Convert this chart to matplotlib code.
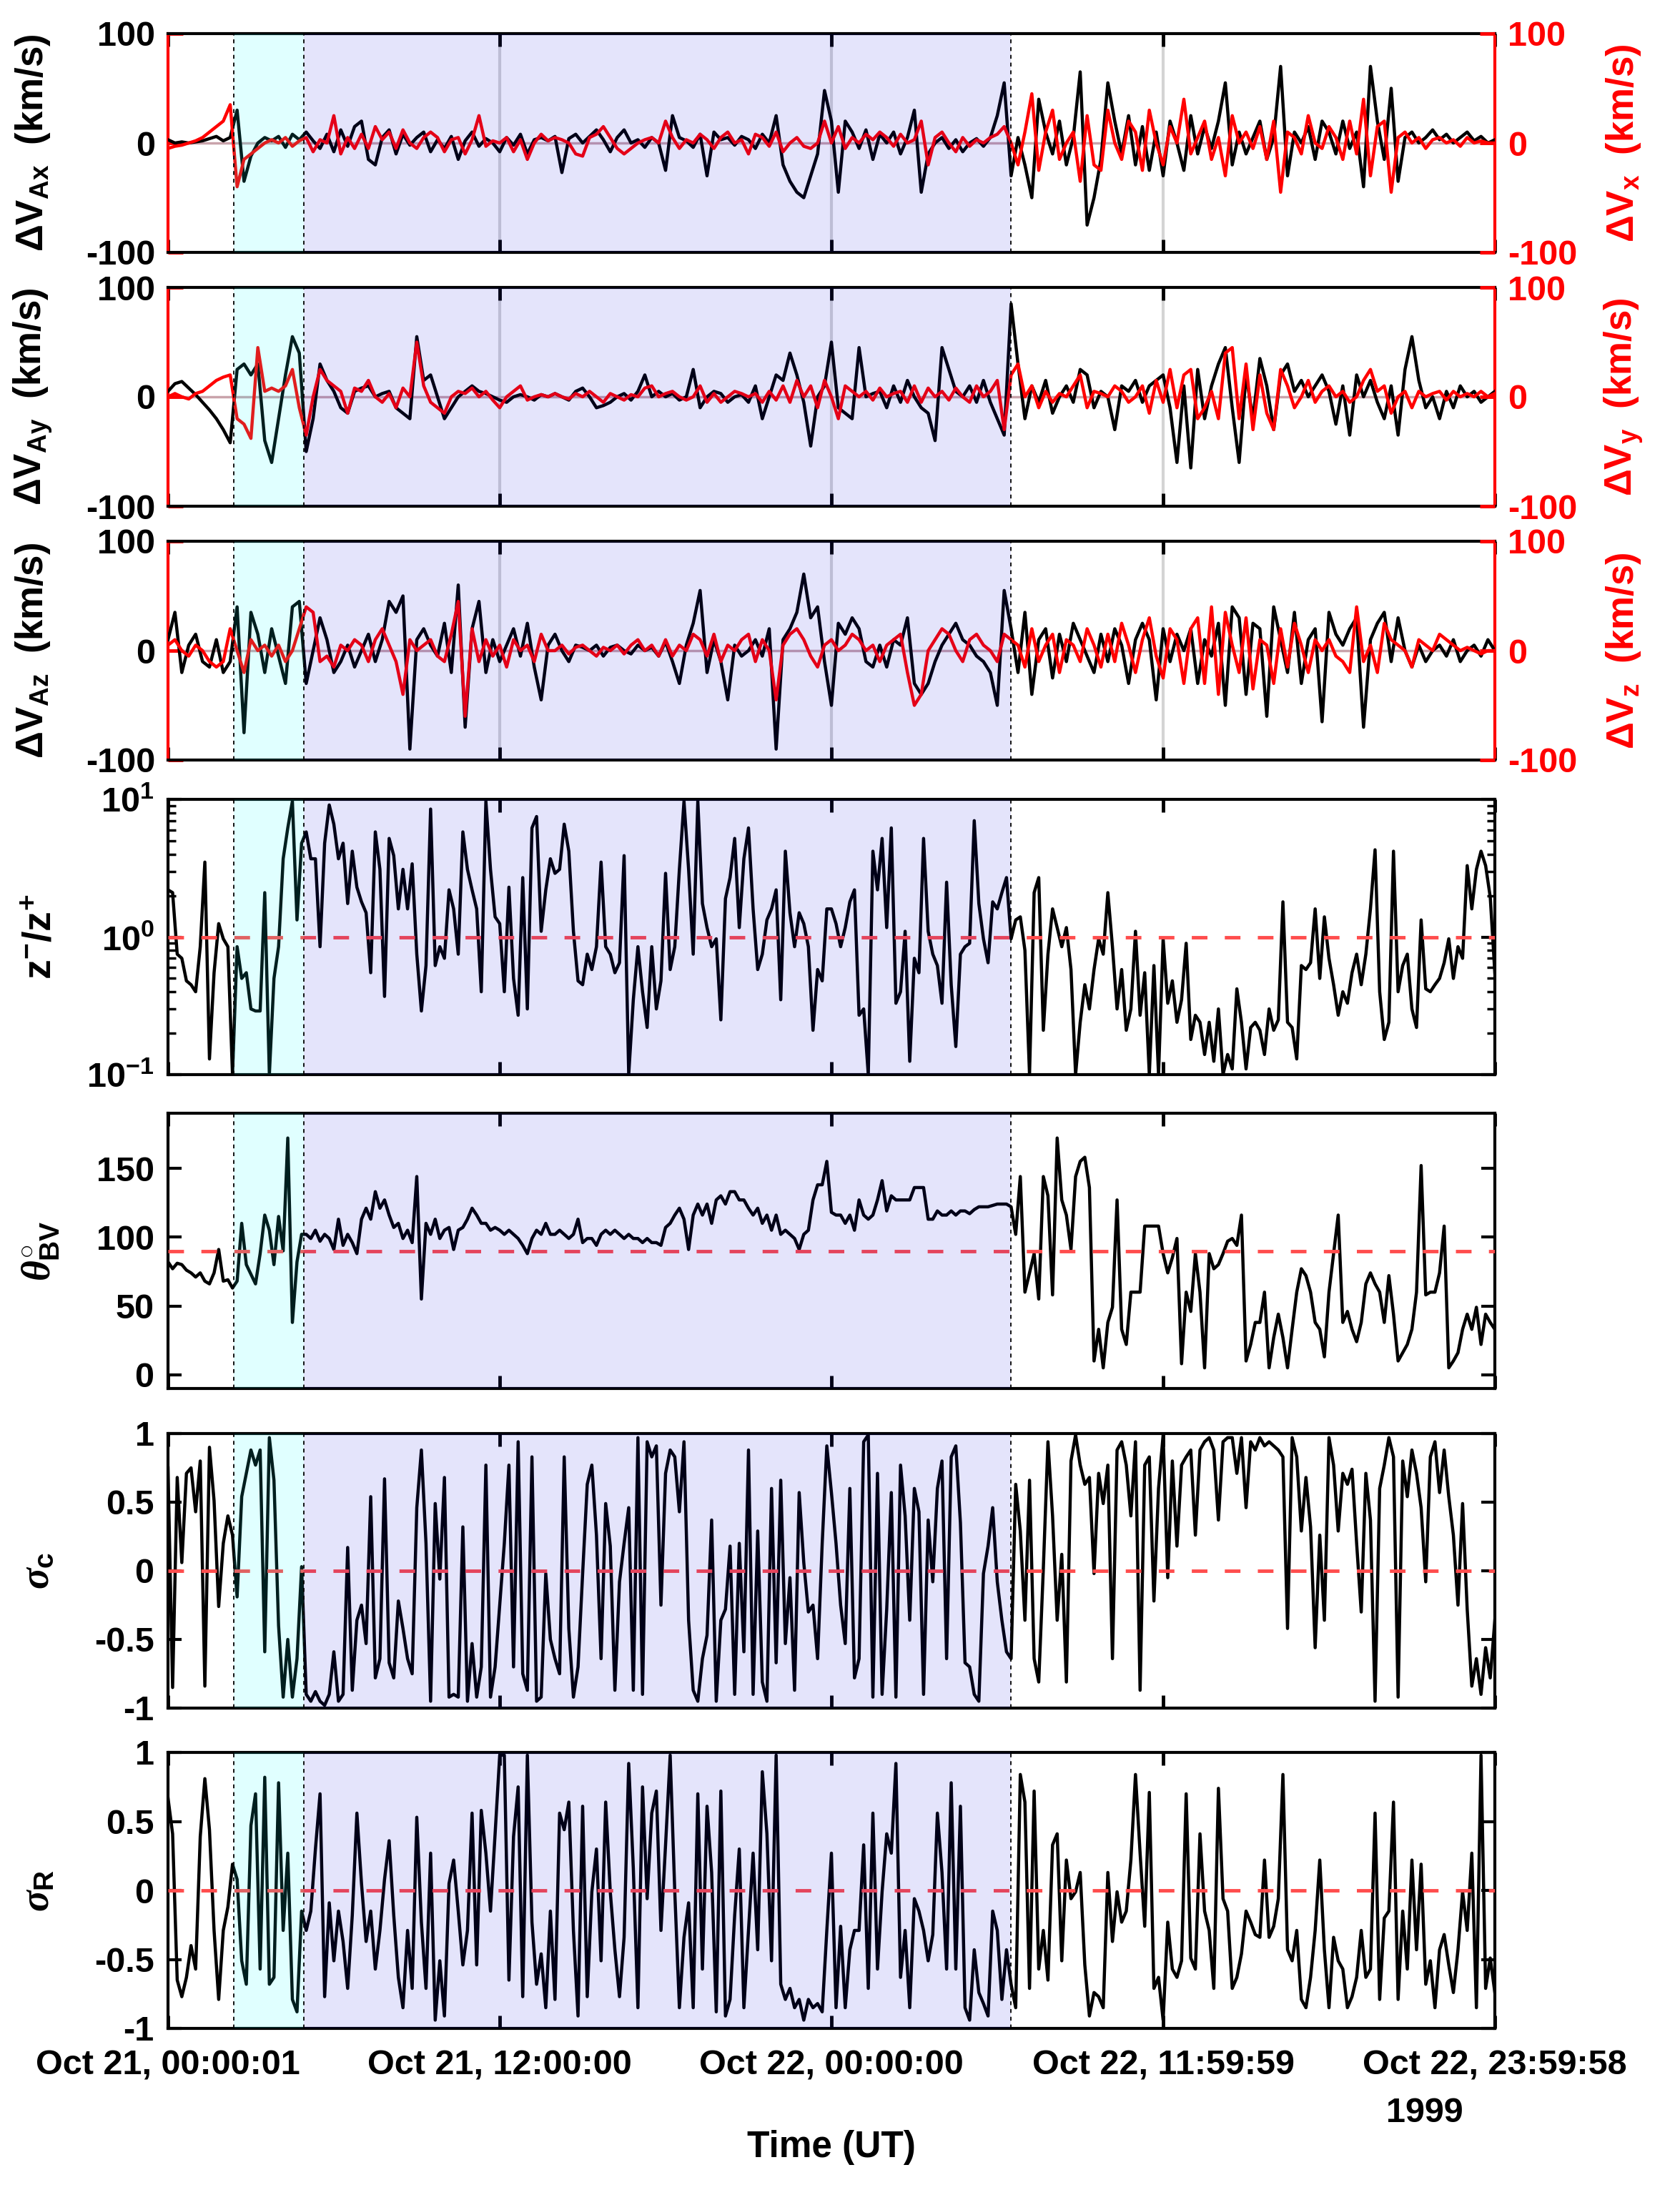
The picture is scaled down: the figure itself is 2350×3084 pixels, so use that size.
import numpy as np
import matplotlib
matplotlib.use('Agg')
import matplotlib.pyplot as plt

plt.rcParams['font.family'] = ['Liberation Sans', 'DejaVu Sans']
plt.rcParams['font.weight'] = 'bold'
plt.rcParams['axes.unicode_minus'] = False
plt.rcParams['mathtext.fontset'] = 'custom'
plt.rcParams['mathtext.rm'] = 'Liberation Sans:bold'
plt.rcParams['mathtext.bf'] = 'Liberation Sans:bold'
plt.rcParams['mathtext.it'] = 'Liberation Serif:italic'
plt.rcParams['mathtext.sf'] = 'Liberation Sans:bold'

# time axis: hours since Oct 21 00:00:01 (48 h)
# boundaries of the shaded intervals (hours)
t_start1 = 2.38
t_start2 = 4.91
t_end2 = 30.49

xtick_hours = [0, 12, 24, 36, 48]
xtick_labels = ['Oct 21, 00:00:01', 'Oct 21, 12:00:00', 'Oct 22, 00:00:00',
                'Oct 22, 11:59:59', 'Oct 22, 23:59:58']

# ---- top panels: one value every 15 min ----
# dV_Ax (black) and dV_x (red), km/s
dvax = [3, 0, 1, 0, 1, 2, 4, 6, 2, 5, 30, -35, -12, 0, 5, 2,
        6, -4, 8, 3, 10, 2, -5, 8, -8, 12, -3, 15, 20, -15, -20, 5,
        12, -10, 8, -2, 5, 10, -8, 3, -5, 6, -15, 2, 10, -3, 4, 0,
        -8, 5, -2, 8, -10, 3, 5, 2, 6, -27, 4, 8, 0, 6, 12, 3,
        -8, 5, 12, 0, 3, -4, 5, 0, -25, 25, 5, 2, -4, 8, -30, 10,
        3, 5, -2, 6, 3, -5, 8, 0, 25, -20, -35, -45, -50, -30, -10, 48,
        20, -45, 20, 10, -5, 12, -15, 8, 0, 10, -10, 5, 30, -45, -10, 0,
        5, -5, 3, -8, 0, 4, -3, 5, 25, 55, -30, 5, -20, -50, 40, 10,
        -10, 20, -20, 5, 65, -75, -50, -15, 55, 20, -10, 25, -20, 15, -25, 10,
        -30, 20, 0, -25, 25, -10, 15, -5, 20, 55, -20, 10, -10, 5, 20, -15,
        5, 70, -30, 10, 0, 15, -15, 20, 10, -10, 20, -5, 10, -40, 70, 20,
        -15, 50, -35, 5, 10, 0, 5, 12, 3, 8, 0, 5, 10, 2, 6, 0,
        3]
dvx = [-5, -3, -2, 0, 2, 5, 10, 15, 20, 35, -40, -15, -10, -5, 0, 3,
       0, 5, -3, 2, 5, -8, 3, 0, 25, -10, 5, -5, 8, -5, 15, 3,
       10, -5, 12, 0, -5, 5, 10, 5, -8, 3, 5, -10, 3, 25, -3, 2,
       0, 5, -8, 3, -15, 0, 8, 2, 5, 3, 0, -10, -12, 5, 8, 15,
       5, -5, -10, -5, 0, 3, 5, 0, 20, 5, -5, 3, 0, 8, 3, -5,
       5, 10, 0, 3, -10, 8, 5, -3, 10, -8, 0, 5, -3, -5, 0, 20,
       0, 15, -5, 5, 0, 8, 3, 10, 5, -3, 8, 0, 3, 20, -20, 5,
       10, 0, -8, 5, -3, 3, 0, 5, 8, 15, 0, -20, 10, 45, -25, 10,
       30, -15, 0, 10, -35, 25, -20, -25, 30, 0, -15, 20, 10, -25, 30, 0,
       -20, 15, 0, 40, -10, 5, 20, -15, 5, -30, 25, 0, 10, -5, 15, -15,
       20, -45, 10, 5, -10, 25, 0, -5, 15, 5, -15, 20, -10, 40, -30, 15,
       20, -45, 5, 10, 0, 5, -5, 3, 5, 0, 3, -3, 5, 0, 2, 0,
       0]

# dV_Ay (black) and dV_y (red)
dvay = [5, 12, 14, 8, 2, -5, -12, -20, -30, -42, 25, 30, 20, 30, -40, -60,
        -20, 20, 55, 40, -50, -20, 30, 15, 5, -10, -15, 5, 8, 10, 0, 3,
        5, -10, -15, -20, 55, 15, 20, 0, -20, -10, 0, 5, 10, 5, 3, 0,
        -3, -5, 0, 2, 0, -3, 2, 0, 3, 0, -3, 5, 8, 0, -10, -8,
        -5, 0, 3, -3, 5, 20, 0, 5, 0, 3, -3, 0, 25, -10, 0, 5,
        3, -5, 0, 2, -5, 10, -20, 0, 20, 15, 40, 20, -5, -45, 0, 10,
        50, -10, -15, -20, 45, 0, 3, 5, -10, 10, -5, 15, 0, -10, -15, -40,
        45, 25, 5, 0, 10, -5, 15, -5, -20, -35, 85, 30, -20, 10, -5, 15,
        -15, 0, 10, -5, 25, 20, -10, 5, 0, -30, 10, 5, 15, -5, 10, 15,
        20, -10, -60, 10, -65, 25, -20, 10, 30, 45, -10, -60, 20, -20, 35, 10,
        -30, 20, 30, 5, 15, 0, 10, 20, 5, -25, 10, -35, 20, 0, 15, -5,
        -20, 10, -35, 25, 55, 15, -10, 0, -20, 5, -10, 10, 0, 5, -5, 0,
        5]
dvy = [0, 3, 0, -2, 3, 5, 10, 15, 18, 20, -20, -25, -38, 45, 5, 8,
       5, 10, 25, -10, -35, 0, 25, 15, 10, 5, -15, 8, 5, 15, 0, -5,
       3, -10, 8, 0, 50, 10, -5, -10, -15, 0, 5, 3, 8, 0, 5, -3,
       -10, 0, 5, 10, -3, 0, 2, 0, 3, 0, -2, 3, 0, 5, 0, -5,
       3, 0, -3, 2, 0, 8, 10, 0, 3, 5, 0, -3, 0, 10, -5, 3,
       -5, 0, 5, 3, 0, 3, -5, 5, -3, 10, -5, 15, 0, 10, -10, 15,
       0, -20, 10, 5, 0, 5, -3, 8, 0, 3, 5, -5, 10, -5, 8, 0,
       5, -3, 8, 0, -5, 10, 0, 5, 15, -30, 20, 30, 0, 10, -10, 5,
       -5, 3, 0, 10, 20, -10, 5, 3, 0, 10, 5, -5, 0, 10, -15, 15,
       -5, 25, -10, 20, 25, -20, -10, 5, -20, 40, 45, -20, 30, -30, 20, -15,
       -30, 25, 10, -10, 0, 15, -5, 5, 10, 0, 5, -5, 0, 15, 25, 5,
       10, -15, 0, 5, -10, 5, 0, 3, 5, -3, 5, 0, 3, 0, 5, 0,
       3]

# dV_Az (black) and dV_z (red)
dvaz = [10, 35, -20, 5, 15, -10, -15, 10, -20, -10, 40, -75, 35, 15, -20, 20,
        -5, -30, 40, 45, -30, 0, 30, 10, -20, -10, 5, -15, 0, 15, -10, 10,
        45, 35, 50, -90, 10, 20, 5, -5, 25, -20, 60, -70, 20, 45, -20, 10,
        -10, 5, 20, -5, 25, -15, -45, 5, 15, 0, -10, 5, 3, 0, 5, -5,
        3, 5, 0, -3, 5, 0, 3, -5, 8, -10, -30, 5, 25, 55, -20, 10,
        -10, -45, 5, -5, 0, 10, -5, 20, -90, 10, 20, 35, 70, 30, 40, -10,
        -50, 25, 15, 30, 20, -10, -15, 5, -15, 10, 5, 30, -30, -40, -30, -10,
        5, 15, 25, 10, 5, -5, -10, -20, -50, 55, 20, -20, 35, -40, 10, 20,
        -25, 15, -10, 25, 10, -5, -20, 15, -10, 20, 5, -30, 10, 25, 10, -45,
        20, -10, 15, 0, 20, -30, 10, -5, 25, -50, 40, 30, -40, 25, 20, -60,
        40, 10, -20, 35, -30, 10, 20, -65, 35, 15, 5, 20, 30, -70, 10, 25,
        35, -10, 30, 0, -15, 5, -10, 0, 5, -5, 10, -10, 0, 5, -5, 10,
        0]
dvz = [5, 10, 0, -5, 5, 0, -10, -15, -10, 20, 0, -20, 10, 0, 5, -5,
       5, -10, 0, 20, 40, 35, -10, -5, -15, 5, 0, 10, 5, -10, 10, 20,
       5, -10, -40, 10, 0, 5, 10, -5, -10, 15, 45, -60, 20, -10, 10, -5,
       5, -15, 10, 0, 5, -10, 15, 0, 0, 5, -3, 3, 5, 0, -5, 3,
       0, 5, -3, 5, 10, 0, 5, -5, 10, -5, 5, 0, 15, 10, -5, 15,
       -10, 5, 0, 10, 15, -10, 10, 0, -45, 5, 15, 20, 10, -5, -15, 5,
       10, 0, 5, 15, 10, 0, 5, -10, 5, 10, 15, -20, -50, -40, 0, 10,
       20, 15, 0, -10, 10, 15, 5, 0, -10, 15, 10, 5, -15, 20, -10, 5,
       15, -20, 10, 5, -10, 20, 5, -15, 15, -10, 25, 5, -20, 10, 30, -5,
       -25, 20, 10, -30, 20, 30, -30, 40, -40, 35, 5, -20, 30, -35, 10, 5,
       -30, 20, -15, 25, 5, -20, 10, 0, 10, -5, -10, -20, 40, -10, 5, -20,
       25, 10, 5, 0, -15, 10, 5, 0, 15, 10, 5, 0, 3, 0, -3, 0,
       0]

# ---- lower panels: one value every 10 min ----
# z-/z+ ratio
zratio = [2.2, 2.1, 0.75, 0.7, 0.48, 0.45, 0.4, 0.85, 3.5, 0.13, 0.55, 1.25,
          0.97, 0.85, 0.1, 0.85, 0.5, 0.55, 0.3, 0.29, 0.29, 2.1, 0.1, 0.5,
          0.85, 3.7, 6.2, 9.7, 1.33, 4.8, 5.8, 3.7, 3.7, 0.85, 4.8, 9.1,
          6.6, 3.7, 4.8, 1.75, 4.2, 2.3, 1.8, 1.5, 0.55, 5.8, 3.1, 0.37,
          5.2, 3.9, 1.6, 3.1, 1.6, 3.4, 0.75, 0.29, 0.62, 8.5, 0.62, 0.85,
          0.7, 2.2, 1.6, 0.75, 5.8, 3.1, 2.2, 1.6, 0.4, 9.7, 3.1, 1.4,
          1.25, 0.4, 2.3, 0.5, 0.27, 2.7, 0.3, 6.2, 7.5, 1.1, 2.2, 3.7,
          2.9, 3.1, 6.6, 4.2, 1.1, 0.48, 0.45, 0.75, 0.58, 0.85, 3.5, 0.85,
          0.75, 0.55, 0.65, 3.9, 0.1, 0.35, 0.85, 0.4, 0.22, 0.85, 0.3, 0.48,
          2.9, 0.58, 0.85, 3.1, 9.7, 3.1, 0.75, 9.7, 1.75, 1.17, 0.85, 0.97,
          0.25, 1.9, 2.7, 5.2, 1.17, 3.7, 6.2, 1.6, 0.58, 0.75, 1.33, 1.6,
          2.2, 0.35, 4.2, 1.5, 0.85, 1.5, 1.25, 0.85, 0.21, 0.58, 0.48, 1.6,
          1.6, 1.25, 0.85, 1.17, 1.8, 2.2, 0.27, 0.3, 0.1, 4.2, 2.2, 5.2,
          1.17, 6.2, 0.33, 0.4, 1.1, 0.125, 0.7, 0.55, 5.2, 1.1, 0.75, 0.62,
          0.33, 2.5, 0.45, 0.16, 0.75, 0.85, 0.9, 7.0, 1.75, 0.97, 0.65, 1.8,
          1.6, 2.1, 2.7, 0.97, 1.33, 1.4, 0.8, 0.1, 2.1, 2.7, 0.21, 0.75,
          1.6, 1.17, 0.85, 1.17, 0.58, 0.1, 0.24, 0.45, 0.3, 0.58, 0.97, 0.75,
          2.1, 0.85, 0.3, 0.58, 0.21, 0.3, 1.1, 0.27, 0.55, 0.1, 0.62, 0.1,
          0.97, 0.33, 0.48, 0.24, 0.35, 0.9, 0.18, 0.27, 0.24, 0.14, 0.24, 0.125,
          0.3, 0.1, 0.14, 0.11, 0.42, 0.24, 0.11, 0.22, 0.24, 0.21, 0.14, 0.3,
          0.21, 0.25, 1.8, 0.24, 0.22, 0.13, 0.62, 0.58, 0.65, 1.6, 0.5, 1.4,
          0.7, 0.45, 0.27, 0.4, 0.33, 0.55, 0.75, 0.45, 0.75, 1.6, 4.3, 0.4,
          0.18, 0.24, 4.2, 0.4, 0.62, 0.75, 0.3, 0.22, 1.33, 0.42, 0.4, 0.45,
          0.5, 0.65, 0.97, 0.5, 0.85, 0.7, 3.3, 1.6, 3.1, 4.2, 3.3, 1.95,
          0.55]

# theta_BV (degrees)
theta_bv = [82, 77, 81, 80, 76, 74, 71, 74, 68, 66, 74, 91,
            68, 69, 63, 68, 110, 80, 73, 66, 88, 116, 105, 80,
            115, 90, 172, 38, 82, 102, 102, 99, 105, 97, 102, 99,
            91, 113, 94, 102, 96, 88, 113, 121, 113, 133, 121, 127,
            116, 107, 110, 99, 105, 96, 144, 55, 110, 102, 113, 99,
            105, 107, 91, 105, 107, 113, 121, 116, 110, 110, 105, 107,
            105, 102, 105, 102, 99, 94, 88, 99, 105, 102, 110, 102,
            102, 105, 102, 99, 102, 113, 96, 99, 99, 94, 102, 105,
            102, 105, 102, 99, 102, 99, 99, 96, 99, 96, 96, 94,
            107, 110, 116, 121, 113, 91, 116, 124, 116, 124, 110, 127,
            130, 124, 133, 133, 127, 127, 121, 116, 121, 110, 116, 105,
            116, 102, 105, 102, 99, 91, 102, 105, 127, 138, 138, 155,
            118, 116, 116, 110, 116, 105, 127, 116, 113, 116, 127, 141,
            119, 130, 127, 127, 127, 127, 136, 136, 136, 113, 113, 119,
            116, 116, 119, 116, 119, 119, 117, 120, 122, 122, 122, 123,
            124, 124, 124, 122, 102, 144, 60, 74, 88, 55, 144, 130,
            58, 172, 127, 116, 91, 144, 155, 158, 136, 10, 33, 5,
            38, 49, 127, 33, 22, 60, 60, 60, 108, 108, 108, 108,
            88, 74, 85, 99, 8, 60, 46, 88, 60, 5, 88, 77,
            80, 88, 97, 99, 94, 116, 10, 22, 38, 38, 60, 5,
            27, 44, 27, 5, 33, 60, 77, 72, 60, 38, 33, 13,
            60, 88, 116, 38, 46, 33, 24, 38, 66, 74, 66, 60,
            38, 72, 44, 10, 16, 22, 33, 60, 152, 58, 60, 60,
            74, 108, 5, 10, 16, 33, 44, 33, 49, 22, 44, 38,
            33]

# cross helicity sigma_c
sigma_c = [0.75, -0.85, 0.68, 0.06, 0.71, 0.75, 0.43, 0.8, -0.84, 0.9, 0.51, -0.26,
           0.2, 0.4, 0.26, -0.19, 0.54, 0.71, 0.88, 0.77, 0.88, -0.59, 0.97, 0.66,
           -0.4, -0.92, -0.5, -0.92, -0.64, 0.03, -0.9, -0.95, -0.88, -0.95, -0.98, -0.9,
           -0.59, -0.95, -0.9, 0.17, -0.87, -0.36, -0.25, -0.53, 0.54, -0.78, -0.64, 0.67,
           -0.67, -0.78, -0.22, -0.42, -0.64, -0.75, 0.46, 0.88, 0.2, -0.95, 0.49, -0.06,
           0.68, -0.92, -0.9, -0.92, 0.32, -0.95, -0.53, -0.92, -0.7, 0.77, -0.92, -0.7,
           -0.25, 0.2, 0.77, -0.7, 0.94, -0.75, -0.87, 0.83, -0.95, -0.92, -0.02, -0.5,
           -0.64, -0.75, 0.83, -0.42, -0.92, -0.7, -0.02, 0.63, 0.77, 0.26, -0.64, 0.49,
           0.18, -0.87, -0.08, 0.2, 0.46, -0.87, 0.97, -0.9, 0.94, 0.83, 0.91, -0.25,
           0.71, 0.88, 0.83, 0.43, 0.94, -0.36, -0.87, -0.95, -0.64, -0.47, 0.37, -0.95,
           -0.36, -0.28, 0.18, -0.9, 0.2, -0.59, 0.88, -0.9, 0.29, -0.81, -0.95, 0.6,
           -0.67, 0.66, -0.53, -0.05, -0.87, 0.57, 0.06, -0.3, -0.25, -0.64, 0.2, 0.91,
           0.57, 0.2, -0.25, -0.53, 0.6, -0.78, -0.64, 0.94, 0.99, -0.92, 0.71, -0.9,
           -0.28, 0.57, -0.92, 0.77, 0.4, -0.36, 0.6, 0.43, -0.9, 0.37, -0.08, 0.6,
           0.8, -0.64, 0.83, 0.91, 0.35, -0.67, -0.7, -0.9, -0.95, -0.02, 0.18, 0.46,
           -0.08, -0.36, -0.59, -0.64, 0.63, 0.29, -0.36, 0.66, -0.64, -0.81, 0.02, 0.94,
           0.4, -0.36, 0.12, -0.81, 0.8, 0.99, 0.77, 0.63, 0.68, -0.02, 0.71, 0.49,
           0.77, -0.64, 0.88, 0.94, 0.77, 0.4, 0.94, -0.87, 0.77, 0.83, -0.22, 0.6,
           0.99, -0.05, 0.8, 0.18, 0.77, 0.83, 0.88, 0.26, 0.88, 0.94, 0.97, 0.88,
           0.37, 0.94, 0.97, 0.97, 0.71, 0.97, 0.46, 0.94, 0.88, 0.97, 0.91, 0.94,
           0.91, 0.88, 0.83, -0.42, 0.97, 0.83, 0.29, 0.68, 0.32, -0.56, 0.26, -0.36,
           0.97, 0.77, 0.29, 0.71, 0.63, 0.74, 0.2, -0.3, 0.71, 0.37, -0.95, 0.6,
           0.77, 0.97, 0.83, -0.92, 0.8, 0.54, 0.88, 0.71, 0.46, -0.08, 0.83, 0.94,
           0.57, 0.88, 0.54, 0.26, -0.25, 0.49, -0.28, -0.84, -0.64, -0.9, -0.56, -0.78,
           -0.36]

# residual energy sigma_R
sigma_r = [0.67, 0.41, -0.65, -0.77, -0.63, -0.4, -0.57, 0.39, 0.81, 0.44, -0.29, -0.79,
           -0.29, -0.12, 0.19, 0.08, -0.51, -0.68, 0.47, 0.7, -0.57, 0.82, -0.68, -0.63,
           0.78, -0.29, 0.27, -0.79, -0.88, -0.15, -0.29, -0.15, 0.3, 0.7, -0.77, -0.09,
           -0.51, -0.15, -0.37, -0.71, -0.18, 0.56, 0.05, -0.37, -0.15, -0.57, -0.29, 0.08,
           0.36, -0.18, -0.63, -0.85, -0.29, -0.71, 0.53, -0.23, -0.71, 0.27, -0.94, -0.51,
           -0.91, 0.05, 0.22, -0.15, -0.54, -0.29, 0.56, -0.54, 0.58, 0.27, -0.15, 0.41,
           0.98, 0.98, -0.65, 0.39, 0.75, -0.77, 0.98, -0.23, -0.68, -0.46, -0.85, -0.15,
           -0.79, 0.56, 0.44, 0.64, -0.29, -0.91, 0.61, -0.77, -0.01, 0.3, -0.51, 0.64,
           -0.01, -0.43, -0.77, -0.34, 0.92, 0.16, -0.85, 0.75, -0.06, 0.56, 0.72, -0.29,
           0.33, 0.98, -0.01, -0.85, -0.34, -0.09, -0.85, 0.7, -0.57, 0.61, 0.13, -0.88,
           0.72, -0.91, -0.79, -0.18, 0.3, -0.85, -0.29, 0.27, -0.43, 0.86, 0.41, -0.51,
           0.98, -0.68, -0.79, -0.71, -0.85, -0.79, -0.94, -0.79, -0.85, -0.82, -0.88, -0.29,
           0.27, -0.85, -0.26, -0.85, -0.43, -0.29, -0.29, 0.33, -0.71, 0.56, -0.57, -0.01,
           0.41, 0.27, 0.92, -0.63, -0.29, -0.85, -0.06, -0.15, -0.29, -0.51, -0.32, 0.56,
           0.13, -0.57, 0.78, -0.57, 0.61, -0.85, -0.94, -0.43, -0.74, -0.82, -0.91, -0.15,
           -0.29, -0.79, -0.43, -0.68, -0.85, 0.84, 0.64, -0.71, 0.72, -0.57, -0.29, -0.65,
           0.33, 0.41, -0.51, 0.22, -0.06, -0.01, 0.13, -0.54, -0.91, -0.74, -0.77, -0.85,
           0.13, -0.37, -0.01, -0.23, -0.15, 0.22, 0.84, 0.27, -0.26, 0.71, -0.71, -0.63,
           -0.94, -0.23, -0.57, -0.63, -0.51, 0.7, -0.49, -0.57, 0.41, -0.15, -0.29, -0.71,
           0.74, -0.06, -0.15, -0.71, -0.63, -0.46, -0.15, -0.23, -0.32, -0.34, 0.22, -0.34,
           -0.26, -0.06, 0.84, -0.43, -0.51, -0.29, -0.79, -0.85, -0.63, -0.29, 0.22, -0.43,
           -0.85, -0.34, -0.51, -0.57, -0.85, -0.77, -0.63, -0.29, -0.63, -0.57, 0.56, -0.79,
           -0.2, -0.15, 0.64, -0.79, -0.15, -0.57, 0.22, -0.43, 0.19, -0.68, -0.51, -0.85,
           -0.43, -0.32, -0.54, -0.74, -0.43, -0.01, -0.29, 0.27, -0.85, 0.98, -0.71, -0.49,
           -0.74]

W, H = 2350, 3084
LEFT, RIGHT = 235, 2091
fig = plt.figure(figsize=(W / 100, H / 100), dpi=100)

# panel top/bottom in pixels
rows = [(47, 353), (402, 708), (757, 1063), (1118, 1503),
        (1557, 1942), (2005, 2389), (2451, 2837)]

LW = 3.2
TICK_FS = 35


def make_ax(top, bottom):
    return fig.add_axes([LEFT / W, 1 - bottom / H, (RIGHT - LEFT) / W, (bottom - top) / H])


def tt(arr):
    return np.linspace(0, 48, len(arr))


def common(ax, last=False):
    ax.set_xlim(0, 48)
    ax.set_xticks(xtick_hours)
    ax.tick_params(axis='x', which='major', direction='in', length=13, width=3.5,
                   top=True, bottom=True, labelsize=TICK_FS, pad=21)
    if last:
        ax.set_xticklabels(xtick_labels)
    else:
        ax.set_xticklabels([])
    for s in ax.spines.values():
        s.set_linewidth(3)
    # shaded intervals, laid over the curves
    ax.axvspan(t_start1, t_start2, color=(0, 1, 1), alpha=0.12, lw=0, zorder=5)
    ax.axvspan(t_start2, t_end2, color=(0, 0, 226 / 255), alpha=0.106, lw=0, zorder=5)
    for xb in (t_start1, t_start2, t_end2):
        ax.axvline(xb, color='k', lw=1.3, ls=(0, (3, 3)), zorder=6)


def dvpanel(ax, black, red, llab, rlab):
    common(ax)
    for xg in (12, 24, 36):
        ax.axvline(xg, color='#d4d4d4', lw=3, zorder=1)
    ax.axhline(0, color='#c9a3ab', lw=2.5, zorder=1)
    ax.plot(tt(black), black, color='k', lw=LW, zorder=3)
    ax.plot(tt(red), red, color='red', lw=LW, zorder=4)
    ax.set_ylim(-100, 100)
    ax.set_yticks([-100, 0, 100])
    ax.tick_params(axis='y', direction='in', length=15, width=3.5, color='red',
                   labelsize=TICK_FS, pad=13)
    ax.spines['left'].set_color('red')
    ax.spines['right'].set_color('red')
    ax.set_ylabel(llab, fontsize=38, va='center')
    ax.yaxis.set_label_coords(-0.102, 0.5)
    axr = ax.twinx()
    axr.set_ylim(-100, 100)
    axr.set_yticks([-100, 0, 100])
    axr.tick_params(axis='y', direction='in', length=15, width=3.5, color='red',
                    labelcolor='red', labelsize=TICK_FS, pad=13)
    for s in axr.spines.values():
        s.set_visible(False)
    axr.set_ylabel(rlab, fontsize=38, color='red', rotation=90, va='center')
    axr.yaxis.set_label_coords(1.097, 0.5)


ax1 = make_ax(*rows[0])
dvpanel(ax1, dvax, dvx, r'$\mathbf{\Delta V_{Ax}\ \ (km/s)}$', r'$\mathbf{\Delta V_{x}\ \ (km/s)}$')
ax2 = make_ax(*rows[1])
dvpanel(ax2, dvay, dvy, r'$\mathbf{\Delta V_{Ay}\ \ (km/s)}$', r'$\mathbf{\Delta V_{y}\ \ (km/s)}$')
ax3 = make_ax(*rows[2])
dvpanel(ax3, dvaz, dvz, r'$\mathbf{\Delta V_{Az}\ \ (km/s)}$', r'$\mathbf{\Delta V_{z}\ \ (km/s)}$')


def lowpanel(ax, y, ref, lab, labx, last=False):
    common(ax, last)
    ax.plot(tt(y), y, color='k', lw=LW, zorder=3)
    ax.axhline(ref, color='#ff4d4d', lw=3.5, ls=(0, (4.5, 5)), zorder=4)
    ax.tick_params(axis='y', which='major', direction='in', length=14, width=3,
                   left=True, right=True, labelsize=TICK_FS, pad=14)
    ax.set_ylabel(lab, fontsize=40, va='center')
    ax.yaxis.set_label_coords(labx, 0.5)


ax4 = make_ax(*rows[3])
ax4.set_yscale('log')
lowpanel(ax4, zratio, 1.0, r'$\mathbf{z^{-}/z^{+}}$', -0.096)
ax4.set_ylim(0.1, 10)
ax4.set_yticks([0.1, 1, 10])
ax4.set_yticklabels([r'$\mathbf{10^{-1}}$', r'$\mathbf{10^{0}}$', r'$\mathbf{10^{1}}$'])
ax4.tick_params(axis='y', which='minor', direction='in', length=8, width=2.5,
                left=True, right=True)

ax5 = make_ax(*rows[4])
lowpanel(ax5, theta_bv, 90, r'$\theta^{\circ}_{\mathbf{BV}}$', -0.096)
ax5.set_ylim(-10, 190)
ax5.set_yticks([0, 50, 100, 150])

ax6 = make_ax(*rows[5])
lowpanel(ax6, sigma_c, 0, r'$\sigma_{\mathbf{c}}$', -0.0975)
ax6.set_ylim(-1, 1)
ax6.set_yticks([-1, -0.5, 0, 0.5, 1])
ax6.set_yticklabels(['-1', '-0.5', '0', '0.5', '1'])

ax7 = make_ax(*rows[6])
lowpanel(ax7, sigma_r, 0, r'$\sigma_{\mathbf{R}}$', -0.0975, last=True)
ax7.set_ylim(-1, 1)
ax7.set_yticks([-1, -0.5, 0, 0.5, 1])
ax7.set_yticklabels(['-1', '-0.5', '0', '0.5', '1'])

fig.text(1993 / W, 1 - 2956 / H, '1999', ha='center', va='center', fontsize=35, fontweight='bold')
fig.text((LEFT + RIGHT) / 2 / W, 1 - 3003 / H, 'Time (UT)', ha='center', va='center',
         fontsize=37, fontweight='bold')

fig.savefig('out.png', dpi=100)
